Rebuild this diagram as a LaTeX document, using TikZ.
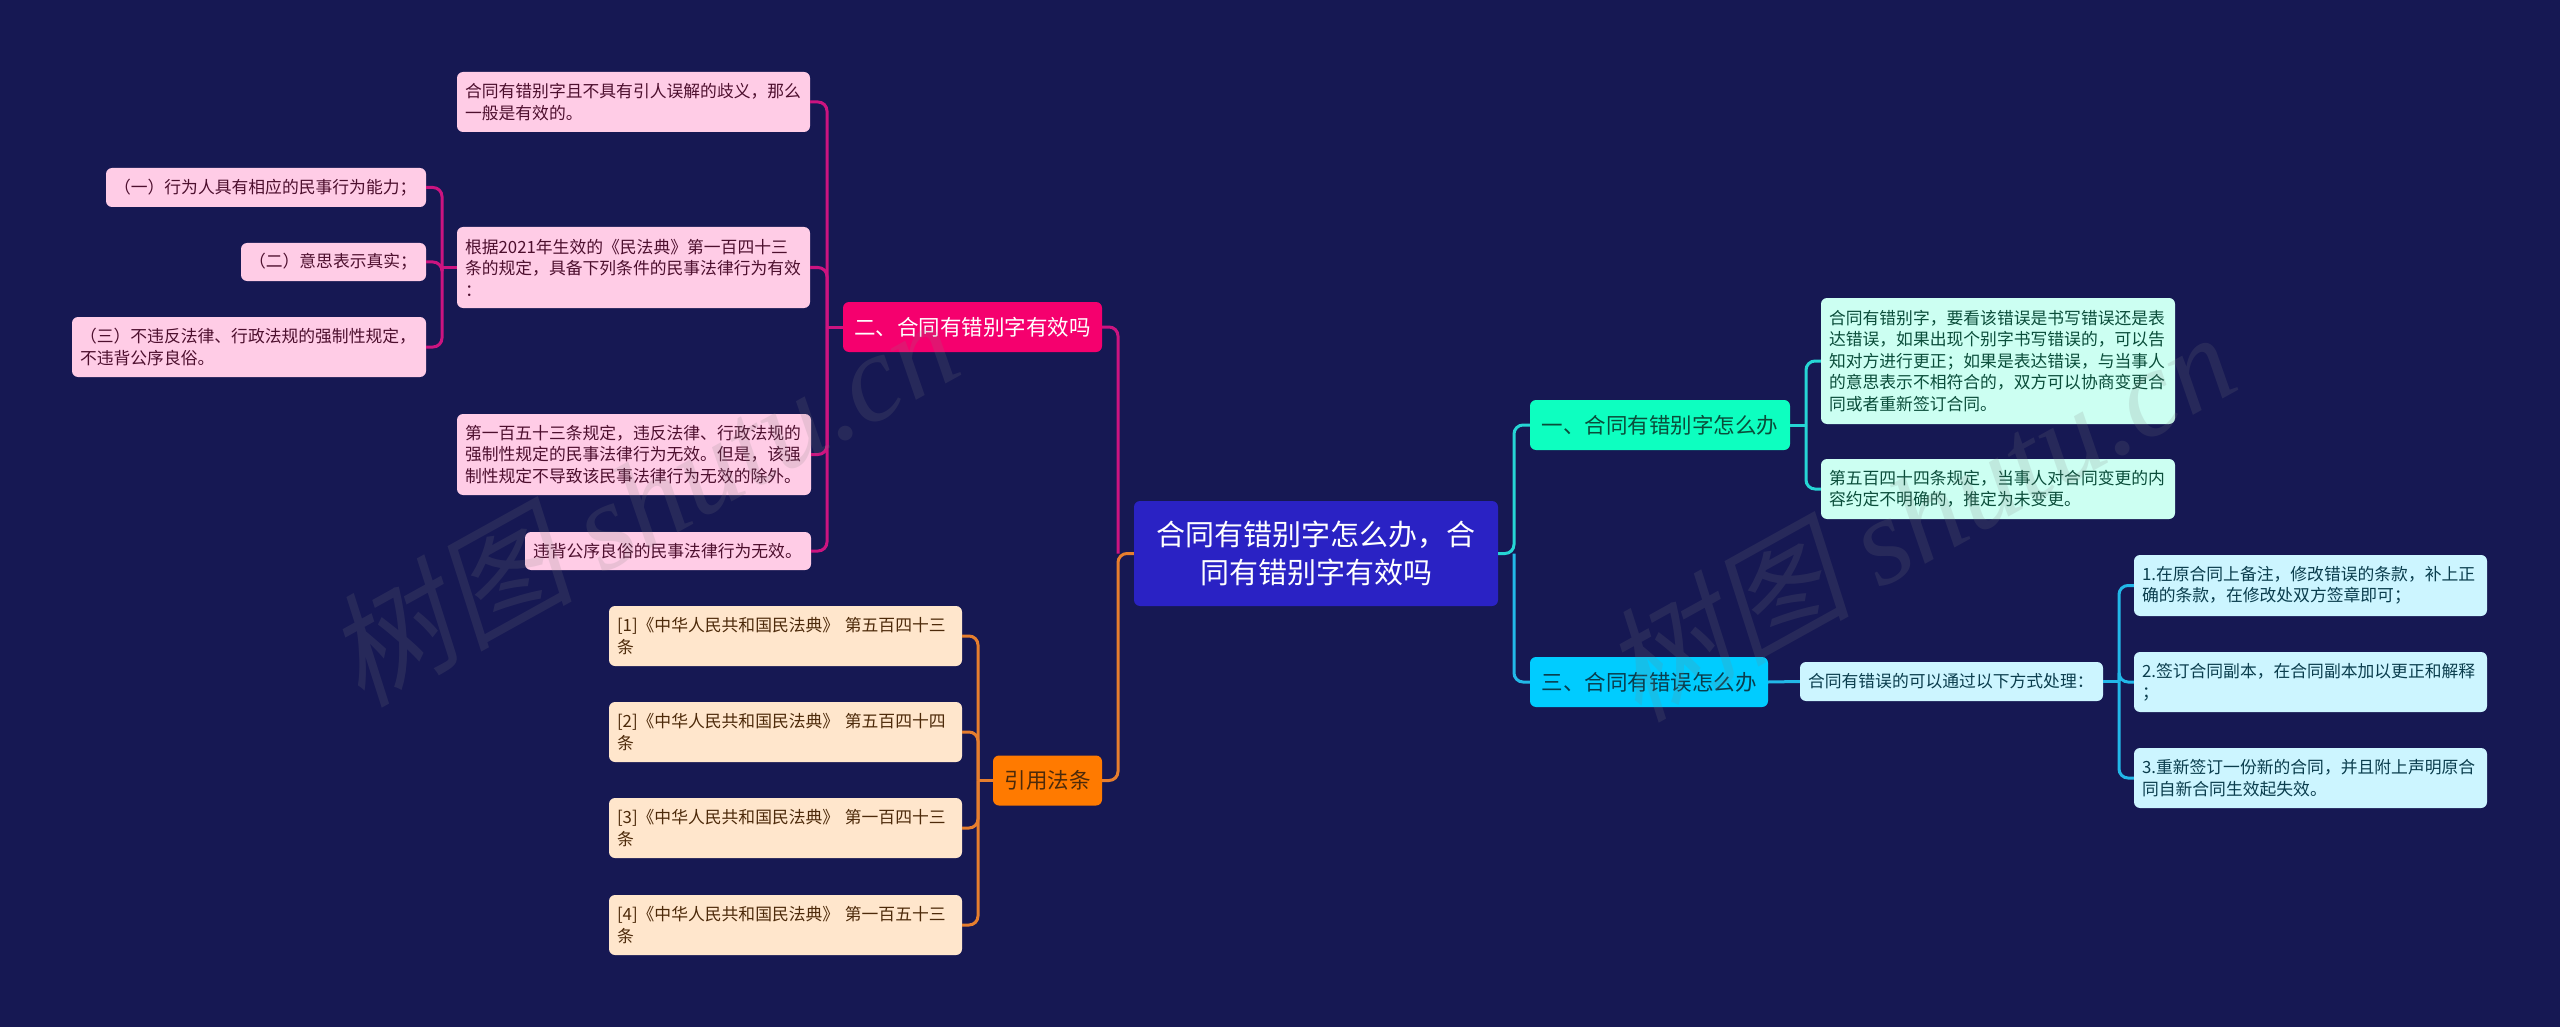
\documentclass[tikz,border=0pt]{standalone}
\usepackage{xcolor}
\usepackage{fontspec}
\setmainfont{Noto Sans CJK SC}
\newfontfamily\markcjk[FakeSlant=0.2]{Noto Sans CJK SC}
\newfontfamily\marklatin{Liberation Serif}[ItalicFont=* Italic]

\definecolor{bgnavy}{HTML}{161853}
\definecolor{rootblue}{HTML}{2A22C4}
\definecolor{redtop}{HTML}{F5006E}
\definecolor{redline}{HTML}{CC1480}
\definecolor{redleaf}{HTML}{FFCCE6}
\definecolor{redtext}{HTML}{4D0F2E}
\definecolor{orangetop}{HTML}{FF7A00}
\definecolor{orangeline}{HTML}{E67E2E}
\definecolor{orangeleaf}{HTML}{FFE6CC}
\definecolor{orangetext}{HTML}{4D2A0A}
\definecolor{greentop}{HTML}{0DFFC0}
\definecolor{greenline}{HTML}{26D5D5}
\definecolor{greenleaf}{HTML}{CCFFF2}
\definecolor{greentext}{HTML}{0A4D3A}
\definecolor{bluetop}{HTML}{00CCFF}
\definecolor{blueline}{HTML}{22B8E8}
\definecolor{blueleaf}{HTML}{CCF5FF}
\definecolor{bluetext}{HTML}{0A3D4D}

\tikzset{
    base/.style={rectangle,rounded corners=6,inner xsep=8,inner ysep=0,align=left},
    leaf/.style={base,font=\fontsize{16.8}{21.5}\selectfont},
    topic/.style={base,align=center,font=\fontsize{21.5}{26}\selectfont},
    link/.style={line width=3,rounded corners=9},
    wmark/.style={gray,opacity=.17,rotate=29,font=\fontsize{124}{124}\selectfont},
}

\begin{document}
\begin{tikzpicture}[x=1pt,y=-1pt]
        \useasboundingbox (0,0) rectangle (2560,1027);
        \fill[bgnavy] (0,0) rectangle (2560,1027);

        % centre
        \node[base,fill=rootblue,text=white,align=center,font=\fontsize{29}{38}\selectfont,minimum width=364,minimum height=105] (root) at (1316,553.5) {合同有错别字怎么办，合\\同有错别字有效吗};

        % left side
        \node[topic,fill=redtop,text=white,minimum width=259,minimum height=50] (valid) at (972.5,327) {二、合同有错别字有效吗};
        \node[leaf,fill=redleaf,text=redtext,text width=337pt,minimum height=60] (noambig) at (633.5,102) {合同有错别字且不具有引人误解的歧义，那么\\一般是有效的。};
        \node[leaf,fill=redleaf,text=redtext,text width=337pt,minimum height=81] (civil) at (633.5,267.5) {根据2021年生效的《民法典》第一百四十三\\条的规定，具备下列条件的民事法律行为有效\\：};
        \node[leaf,fill=redleaf,text=redtext,text width=338pt,minimum height=81] (art) at (634,454.5) {第一百五十三条规定，违反法律、行政法规的\\强制性规定的民事法律行为无效。但是，该强\\制性规定不导致该民事法律行为无效的除外。};
        \node[leaf,fill=redleaf,text=redtext,text width=270pt,minimum height=38] (moral) at (668,551) {违背公序良俗的民事法律行为无效。};
        \node[leaf,fill=redleaf,text=redtext,text width=304pt,minimum height=39] (condone) at (266,187.5) {（一）行为人具有相应的民事行为能力；};
        \node[leaf,fill=redleaf,text=redtext,text width=169pt,minimum height=38] (condtwo) at (333.5,262) {（二）意思表示真实；};
        \node[leaf,fill=redleaf,text=redtext,text width=338pt,minimum height=60] (condthree) at (249,347) {（三）不违反法律、行政法规的强制性规定，\\不违背公序良俗。};

        \node[topic,fill=orangetop,text=orangetext,minimum width=109,minimum height=50] (cite) at (1047.5,780.5) {引用法条};
        \node[leaf,fill=orangeleaf,text=orangetext,text width=337pt,minimum height=60] (citeone) at (785.5,636) {[1]《中华人民共和国民法典》 第五百四十三\\条};
        \node[leaf,fill=orangeleaf,text=orangetext,text width=337pt,minimum height=60] (citetwo) at (785.5,732) {[2]《中华人民共和国民法典》 第五百四十四\\条};
        \node[leaf,fill=orangeleaf,text=orangetext,text width=337pt,minimum height=60] (citethree) at (785.5,828) {[3]《中华人民共和国民法典》 第一百四十三\\条};
        \node[leaf,fill=orangeleaf,text=orangetext,text width=337pt,minimum height=60] (citefour) at (785.5,925) {[4]《中华人民共和国民法典》 第一百五十三\\条};

        % right side
        \node[topic,fill=greentop,text=greentext,minimum width=260,minimum height=50] (how) at (1660,425) {一、合同有错别字怎么办};
        \node[leaf,fill=greenleaf,text=greentext,text width=338pt,minimum height=126] (howa) at (1998,361) {合同有错别字，要看该错误是书写错误还是表\\达错误，如果出现个别字书写错误的，可以告\\知对方进行更正；如果是表达错误，与当事人\\的意思表示不相符合的，双方可以协商变更合\\同或者重新签订合同。};
        \node[leaf,fill=greenleaf,text=greentext,text width=338pt,minimum height=60] (howb) at (1998,489) {第五百四十四条规定，当事人对合同变更的内\\容约定不明确的，推定为未变更。};

        \node[topic,fill=bluetop,text=bluetext,minimum width=238,minimum height=50] (fix) at (1649,682) {三、合同有错误怎么办};
        \node[leaf,fill=blueleaf,text=bluetext,text width=287pt,minimum height=39] (ways) at (1951.5,681.5) {合同有错误的可以通过以下方式处理：};
        \node[leaf,fill=blueleaf,text=bluetext,text width=337pt,minimum height=61] (wayone) at (2310.5,585.5) {1.在原合同上备注，修改错误的条款，补上正\\确的条款，在修改处双方签章即可；};
        \node[leaf,fill=blueleaf,text=bluetext,text width=337pt,minimum height=60] (waytwo) at (2310.5,682) {2.签订合同副本，在合同副本加以更正和解释\\；};
        \node[leaf,fill=blueleaf,text=bluetext,text width=337pt,minimum height=60] (waythree) at (2310.5,778) {3.重新签订一份新的合同，并且附上声明原合\\同自新合同生效起失效。};

        % junctions on the trunks
        \coordinate (rootright) at (1514,553.5);
        \coordinate (rootleft) at (1118,553.5);
        \coordinate (validbus) at (827,327);
        \coordinate (civilbus) at (442,267.5);
        \coordinate (citebus) at (978,780.5);
        \coordinate (howbus) at (1806,425);
        \coordinate (waysbus) at (2119,681.5);

        % connectors
        \draw[link,greenline] (root.east) -- (rootright) |- (how.west);
        \draw[link,blueline] (rootright) |- (fix.west);
        \draw[link,orangeline] (root.west) -- (rootleft) |- (cite.east);
        \draw[link,redline] (rootleft) |- (valid.east);
        \draw[link,redline] (valid.west) -- (validbus);
        \foreach \kid in {noambig,civil,art,moral}
            \draw[link,redline] (validbus) |- (\kid.east);
        \draw[link,redline] (civil.west) -- (civilbus);
        \foreach \kid in {condone,condtwo,condthree}
            \draw[link,redline] (civilbus) |- (\kid.east);
        \draw[link,orangeline] (cite.west) -- (citebus);
        \foreach \kid in {citeone,citetwo,citethree,citefour}
            \draw[link,orangeline] (citebus) |- (\kid.east);
        \draw[link,greenline] (how.east) -- (howbus);
        \foreach \kid in {howa,howb}
            \draw[link,greenline] (howbus) |- (\kid.west);
        \draw[link,blueline] (fix.east) -- (ways.west);
        \draw[link,blueline] (ways.east) -- (waysbus);
        \foreach \kid in {wayone,waytwo,waythree}
            \draw[link,blueline] (waysbus) |- (\kid.west);

        % watermarks
        \node[wmark] (markleft) at (641,499) {{\markcjk 树图} {\marklatin\itshape shutu.cn}};
        \node[wmark] (markright) at (1918,514) {{\markcjk 树图} {\marklatin\itshape shutu.cn}};
\end{tikzpicture}
\end{document}
